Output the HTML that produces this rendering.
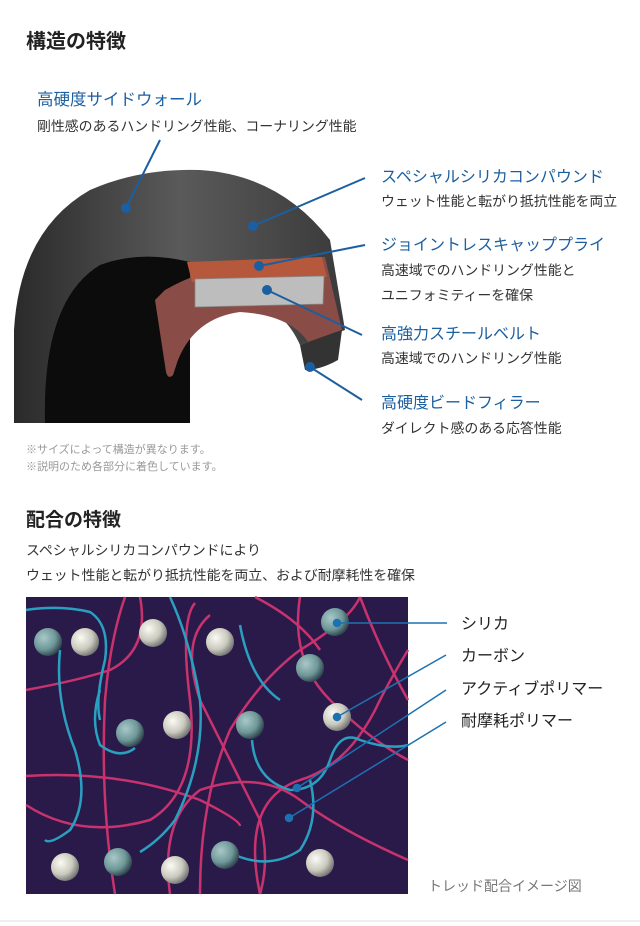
<!DOCTYPE html>
<html><head><meta charset="utf-8"><style>
body{margin:0;background:#fff;font-family:"Liberation Sans","Noto Sans CJK JP",sans-serif;}
svg{display:block}
</style></head><body>
<svg width="640" height="926" viewBox="0 0 640 926" xmlns="http://www.w3.org/2000/svg" font-family="Liberation Sans, Noto Sans CJK JP, sans-serif">
<defs>
<radialGradient id="w" cx="0.35" cy="0.35" r="0.7"><stop offset="0" stop-color="#fbfbf5"/><stop offset="0.6" stop-color="#c9c9bd"/><stop offset="1" stop-color="#6f6f70"/></radialGradient>
<radialGradient id="t" cx="0.35" cy="0.35" r="0.7"><stop offset="0" stop-color="#a9c8c8"/><stop offset="0.6" stop-color="#6f9899"/><stop offset="1" stop-color="#2b3f48"/></radialGradient>
<linearGradient id="tg" x1="0" y1="0" x2="1" y2="0"><stop offset="0" stop-color="#2a2a2a"/><stop offset="0.5" stop-color="#5a5a5a"/><stop offset="1" stop-color="#3a3a3a"/></linearGradient>
</defs>
<text x="26" y="48" font-size="20" font-weight="bold" fill="#222">構造の特徴</text>
<path d="M14,423 L14,330 Q20,230 90,190 Q140,168 200,170 Q280,175 330,240 L345,330 L300,345 Q280,300 230,300 L190,305 L190,423 Z" fill="url(#tg)"/>
<path d="M45,423 Q42,300 100,265 Q140,250 190,262 L190,423 Z" fill="#0c0c0c"/>
<path d="M165,290 Q200,270 245,262 L325,257 L342,330 L308,342 Q290,315 240,312 Q195,318 178,360 L173,375 Q168,380 166,372 L155,300 Z" fill="#8a4c46"/>
<path d="M187,262 L322,257 L327,277 L192,282 Z" fill="#b5583b"/>
<path d="M195,279 L324,276 L323,304 L195,307 Z" fill="#bdbdbd" stroke="#888" stroke-width="0.8"/>
<path d="M300,345 L342,330 L338,360 Q320,370 305,370 Z" fill="#333"/>
<g stroke="#1c5fa0" stroke-width="2" fill="#1c5fa0">
<line x1="126" y1="208" x2="160" y2="140"/><circle cx="126" cy="208" r="4"/>
<line x1="253" y1="226" x2="365" y2="178"/><circle cx="253" cy="226" r="4"/>
<line x1="259" y1="266" x2="365" y2="245"/><circle cx="259" cy="266" r="4"/>
<line x1="267" y1="290" x2="362" y2="335"/><circle cx="267" cy="290" r="4"/>
<line x1="310" y1="367" x2="362" y2="400"/><circle cx="310" cy="367" r="4"/>
</g>
<g font-size="16.5" fill="#1c5fa0">
<text x="37" y="105">高硬度サイドウォール</text>
<text x="381" y="182" font-size="16">スペシャルシリカコンパウンド</text>
<text x="381" y="250" font-size="16">ジョイントレスキャッププライ</text>
<text x="381" y="339" font-size="16">高強力スチールベルト</text>
<text x="381" y="408" font-size="16">高硬度ビードフィラー</text>
</g>
<g font-size="13.9" fill="#333">
<text x="37" y="131">剛性感のあるハンドリング性能、コーナリング性能</text>
<text x="381" y="206">ウェット性能と転がり抵抗性能を両立</text>
<text x="381" y="275">高速域でのハンドリング性能と</text>
<text x="381" y="300">ユニフォミティーを確保</text>
<text x="381" y="363">高速域でのハンドリング性能</text>
<text x="381" y="433">ダイレクト感のある応答性能</text>
</g>
<g font-size="11" fill="#999">
<text x="26" y="453">※サイズによって構造が異なります。</text>
<text x="26" y="470">※説明のため各部分に着色しています。</text>
</g>
<text x="26" y="526" font-size="19" font-weight="bold" fill="#222">配合の特徴</text>
<text x="26" y="555" font-size="13.9" fill="#333">スペシャルシリカコンパウンドにより</text>
<text x="26" y="580" font-size="13.9" fill="#333">ウェット性能と転がり抵抗性能を両立、および耐摩耗性を確保</text>
<rect x="26" y="597" width="382" height="297" fill="#2a1a4a"/>
<g fill="none" stroke-width="2.5" stroke="#c8336e">
<path d="M26,690 Q80,680 110,670 Q150,650 140,597"/>
<path d="M115,894 Q100,800 105,700 Q110,640 125,597"/>
<path d="M26,776 Q120,770 200,800 Q240,820 240,826"/>
<path d="M26,805 Q80,840 150,820 Q200,790 190,700 Q180,620 195,603"/>
<path d="M170,894 Q160,820 200,790 Q260,770 300,800 Q340,830 408,860"/>
<path d="M200,894 Q200,800 230,730 Q260,680 300,650 Q350,620 360,597"/>
<path d="M260,894 Q240,800 300,780 Q350,765 380,700 Q390,680 408,650"/>
<path d="M210,615 Q180,640 200,700 Q230,760 260,820 Q270,860 260,894"/>
<path d="M360,597 Q380,650 408,700"/>
<path d="M300,597 Q290,660 330,700 Q370,740 408,760"/>
<path d="M255,597 Q300,620 320,650"/>
</g>
<g fill="none" stroke-width="2.5" stroke="#2aa0c0">
<path d="M26,610 Q60,605 90,612 Q110,625 105,660 Q95,700 100,720"/>
<path d="M60,650 Q55,700 75,750 Q90,800 70,830 Q50,845 45,840"/>
<path d="M170,597 Q190,640 200,700 Q205,760 175,820 Q160,840 140,852"/>
<path d="M100,690 Q90,720 100,745 Q120,760 135,748"/>
<path d="M252,740 Q255,780 290,790 Q320,790 330,760 Q340,730 360,740 Q390,750 408,745"/>
<path d="M235,855 Q270,870 300,850 Q320,820 310,780"/>
<path d="M240,625 Q250,680 280,700"/>
</g>
<g fill="url(#w)">
<circle cx="85" cy="642" r="14"/><circle cx="153" cy="633" r="14"/><circle cx="220" cy="642" r="14"/>
<circle cx="177" cy="725" r="14"/><circle cx="337" cy="717" r="14"/><circle cx="65" cy="867" r="14"/>
<circle cx="175" cy="870" r="14"/><circle cx="320" cy="863" r="14"/>
</g>
<g fill="url(#t)">
<circle cx="48" cy="642" r="14"/><circle cx="335" cy="622" r="14"/><circle cx="310" cy="668" r="14"/>
<circle cx="130" cy="733" r="14"/><circle cx="250" cy="725" r="14"/><circle cx="118" cy="862" r="14"/>
<circle cx="225" cy="855" r="14"/>
</g>
<g stroke="#1c72b0" stroke-width="1.5" fill="#1c72b0">
<line x1="337" y1="623" x2="447" y2="623"/><circle cx="337" cy="623" r="3.5"/>
<line x1="337" y1="717" x2="446" y2="655"/><circle cx="337" cy="717" r="3.5"/>
<line x1="297" y1="788" x2="446" y2="690"/><circle cx="297" cy="788" r="3.5"/>
<line x1="289" y1="818" x2="446" y2="722"/><circle cx="289" cy="818" r="3.5"/>
</g>
<g font-size="16" fill="#222">
<text x="461" y="629">シリカ</text>
<text x="461" y="661">カーボン</text>
<text x="461" y="694">アクティブポリマー</text>
<text x="461" y="726">耐摩耗ポリマー</text>
</g>
<text x="428" y="891" font-size="14" fill="#777">トレッド配合イメージ図</text>
<line x1="0" y1="921" x2="640" y2="921" stroke="#eee" stroke-width="2"/>
</svg>
</body></html>
